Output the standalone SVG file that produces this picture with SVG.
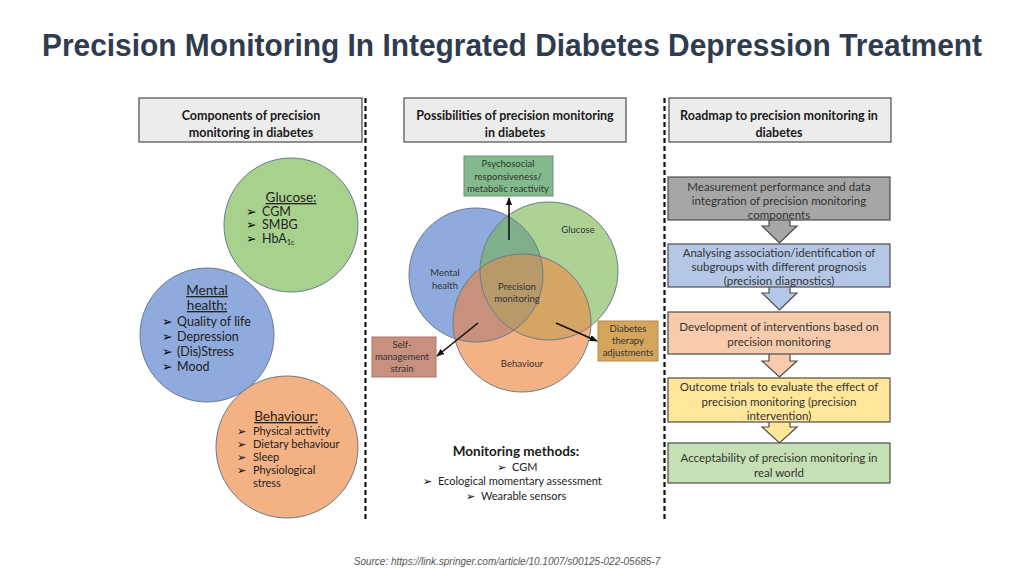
<svg xmlns="http://www.w3.org/2000/svg" width="1024" height="576" viewBox="0 0 1024 576">
<style>
.title{font-family:"Liberation Sans",Arial,sans-serif;font-weight:bold;font-size:31px;fill:#2F3C4F}
.hdr{font-family:Lato,"Open Sans",sans-serif;font-weight:bold;font-size:12.5px;fill:#1a1a1a;text-anchor:middle}
.hbox{fill:#ececec;stroke:#595959;stroke-width:1.3}
.dash{stroke:#111;stroke-width:2.2;stroke-dasharray:5 3;fill:none}
.ct{font-family:Lato,"Open Sans",sans-serif;font-size:12.5px;fill:#222}
.ctu{font-family:Lato,"Open Sans",sans-serif;font-size:13.5px;fill:#222;text-anchor:middle;text-decoration:underline}
.bt{font-family:Lato,"Open Sans",sans-serif;font-size:11px;fill:#222}
.blt{font-family:"DejaVu Sans",sans-serif;fill:#000}
.vt{font-family:Lato,"Open Sans",sans-serif;font-size:9.5px;fill:#333;text-anchor:middle}
.mm{font-family:Lato,"Open Sans",sans-serif;font-size:11px;fill:#222}
.rt{font-family:Lato,"Open Sans",sans-serif;font-size:11.5px;fill:#333;text-anchor:middle}
.rbox{stroke:#4d4d4d;stroke-width:1.2}
.circ{stroke:#6b7b8c;stroke-width:1}
.vo{fill:none;stroke:#6b7b8c;stroke-width:1}
.src{font-family:"Liberation Sans",Arial,sans-serif;font-style:italic;font-size:10px;fill:#555;text-anchor:middle}
</style>
<defs>
<marker id="ah" viewBox="0 0 10 10" refX="9" refY="5" markerWidth="5" markerHeight="5" orient="auto-start-reverse">
<path d="M0,1 L10,5 L0,9 z" fill="#111"/>
</marker>
<clipPath id="cBlue"><circle cx="476" cy="275" r="67"/></clipPath>
<clipPath id="cGreen"><circle cx="549" cy="271" r="69"/></clipPath>
</defs>
<rect width="1024" height="576" fill="#ffffff"/>
<text class="title" x="512" y="56" text-anchor="middle" textLength="940" lengthAdjust="spacingAndGlyphs">Precision Monitoring In Integrated Diabetes Depression Treatment</text>

<g id="dividers">
<line class="dash" x1="365.5" y1="98" x2="365.5" y2="519"/>
<line class="dash" x1="664.5" y1="98" x2="664.5" y2="519"/>
</g>

<g id="header-left">
<rect class="hbox" x="139" y="98" width="223" height="44"/>
<text class="hdr" x="251" y="120">Components of precision</text>
<text class="hdr" x="251" y="137">monitoring in diabetes</text>
</g>
<g id="header-middle">
<rect class="hbox" x="404" y="98" width="222" height="44"/>
<text class="hdr" x="515" y="120">Possibilities of precision monitoring</text>
<text class="hdr" x="515" y="137">in diabetes</text>
</g>
<g id="header-right">
<rect class="hbox" x="669" y="98" width="222" height="44"/>
<text class="hdr" x="779" y="120">Roadmap to precision monitoring in</text>
<text class="hdr" x="779" y="137">diabetes</text>
</g>

<g id="comp-glucose">
<circle class="circ" cx="291" cy="225" r="67" fill="#a9d18e"/>
<text class="ctu" x="291" y="202">Glucose:</text>
<text class="ct" x="246" y="216"><tspan class="blt" font-size="12.5">➢</tspan><tspan x="262">CGM</tspan></text>
<text class="ct" x="246" y="229"><tspan class="blt" font-size="12.5">➢</tspan><tspan x="262">SMBG</tspan></text>
<text class="ct" x="246" y="243"><tspan class="blt" font-size="12.5">➢</tspan><tspan x="262">HbA</tspan><tspan font-size="7.5" dy="2">1c</tspan></text>
</g>
<g id="comp-mental">
<circle class="circ" cx="207" cy="335" r="67" fill="#8faadc"/>
<text class="ctu" x="207" y="295">Mental</text>
<text class="ctu" x="207" y="310">health:</text>
<text class="ct" x="162" y="326"><tspan class="blt" font-size="12.5">➢</tspan><tspan x="177">Quality of life</tspan></text>
<text class="ct" x="162" y="341"><tspan class="blt" font-size="12.5">➢</tspan><tspan x="177">Depression</tspan></text>
<text class="ct" x="162" y="356"><tspan class="blt" font-size="12.5">➢</tspan><tspan x="177">(Dis)Stress</tspan></text>
<text class="ct" x="162" y="371"><tspan class="blt" font-size="12.5">➢</tspan><tspan x="177">Mood</tspan></text>
</g>
<g id="comp-behaviour">
<circle class="circ" cx="287" cy="447" r="71" fill="#f4b183"/>
<text class="ctu" x="286" y="421">Behaviour:</text>
<text class="bt" x="237" y="435"><tspan class="blt" font-size="11">➢</tspan><tspan x="253">Physical activity</tspan></text>
<text class="bt" x="237" y="448"><tspan class="blt" font-size="11">➢</tspan><tspan x="253">Dietary behaviour</tspan></text>
<text class="bt" x="237" y="461"><tspan class="blt" font-size="11">➢</tspan><tspan x="253">Sleep</tspan></text>
<text class="bt" x="237" y="474"><tspan class="blt" font-size="11">➢</tspan><tspan x="253">Physiological</tspan></text>
<text class="bt" x="253" y="487">stress</text>
</g>

<g id="venn">
<circle cx="476" cy="275" r="67" fill="#8faadc"/>
<circle cx="549" cy="271" r="69" fill="#add293"/>
<circle cx="522" cy="323" r="69" fill="#f4b183"/>
<circle cx="549" cy="271" r="69" fill="#80b08b" clip-path="url(#cBlue)"/>
<circle cx="522" cy="323" r="69" fill="#c8917e" clip-path="url(#cBlue)"/>
<circle cx="522" cy="323" r="69" fill="#d4a563" clip-path="url(#cGreen)"/>
<g clip-path="url(#cBlue)"><circle cx="522" cy="323" r="69" fill="#b89a6a" clip-path="url(#cGreen)"/></g>
<circle class="vo" cx="476" cy="275" r="67"/>
<circle class="vo" cx="549" cy="271" r="69"/>
<circle class="vo" cx="522" cy="323" r="69"/>
<text class="vt" x="578" y="233">Glucose</text>
<text class="vt" x="445" y="276">Mental</text>
<text class="vt" x="445" y="289">health</text>
<text class="vt" x="517" y="290">Precision</text>
<text class="vt" x="517" y="302">monitoring</text>
<text class="vt" x="522" y="367">Behaviour</text>
</g>

<g id="psychosocial">
<rect x="464" y="156" width="89" height="40" fill="#82ba8d" stroke="#6f8f76" stroke-width="1"/>
<text class="vt" x="508" y="167">Psychosocial</text>
<text class="vt" x="508" y="180">responsiveness/</text>
<text class="vt" x="508" y="192">metabolic reactivity</text>
</g>
<g id="self-management">
<rect x="372" y="337" width="64" height="40" fill="#c8907e" stroke="#a8786a" stroke-width="1"/>
<text class="vt" x="402" y="348">Self-</text>
<text class="vt" x="402" y="360">management</text>
<text class="vt" x="402" y="372">strain</text>
</g>
<g id="therapy">
<rect x="598" y="321" width="60" height="40" fill="#d5a55c" stroke="#b08a4c" stroke-width="1"/>
<text class="vt" x="628" y="332">Diabetes</text>
<text class="vt" x="628" y="344">therapy</text>
<text class="vt" x="628" y="356">adjustments</text>
</g>

<g id="connectors">
<line x1="509" y1="240" x2="509" y2="198" stroke="#111" stroke-width="1.6" marker-end="url(#ah)"/>
<line x1="478" y1="323" x2="437" y2="356" stroke="#111" stroke-width="1.6" marker-end="url(#ah)"/>
<line x1="556" y1="323" x2="597" y2="341" stroke="#111" stroke-width="1.6" marker-end="url(#ah)"/>
<path d="M769,219 V226 H762 L779.5,243 L797,226 H790 V219" fill="#a6a6a6" stroke="#4d4d4d" stroke-width="1.2"/>
<path d="M769,286 V293 H762 L779.5,310 L797,293 H790 V286" fill="#b4c7e7" stroke="#4d4d4d" stroke-width="1.2"/>
<path d="M769,353 V361 H762 L779.5,377 L797,361 H790 V353" fill="#f8cbad" stroke="#4d4d4d" stroke-width="1.2"/>
<path d="M769,421 V427 H762 L779.5,443 L797,427 H790 V421" fill="#ffe699" stroke="#4d4d4d" stroke-width="1.2"/>
</g>

<g id="monitoring-methods">
<text x="516" y="456" text-anchor="middle" font-family="Lato,'Open Sans',sans-serif" font-weight="bold" font-size="13.5" fill="#1a1a1a">Monitoring methods:</text>
<text class="mm" x="497" y="471"><tspan class="blt" font-size="11">➢</tspan><tspan x="512">CGM</tspan></text>
<text class="mm" x="423" y="485"><tspan class="blt" font-size="11">➢</tspan><tspan x="438">Ecological momentary assessment</tspan></text>
<text class="mm" x="466" y="500"><tspan class="blt" font-size="11">➢</tspan><tspan x="481">Wearable sensors</tspan></text>
</g>

<g id="step1">
<rect class="rbox" x="668" y="177" width="222" height="43" fill="#a6a6a6"/>
<text class="rt" x="779" y="191">Measurement performance and data</text>
<text class="rt" x="779" y="205">integration of precision monitoring</text>
<text class="rt" x="779" y="219">components</text>
</g>
<g id="step2">
<rect class="rbox" x="668" y="244" width="222" height="43" fill="#b4c7e7"/>
<text class="rt" x="779" y="257">Analysing association/identification of</text>
<text class="rt" x="779" y="271">subgroups with different prognosis</text>
<text class="rt" x="779" y="285">(precision diagnostics)</text>
</g>
<g id="step3">
<rect class="rbox" x="668" y="312" width="222" height="42" fill="#f8cbad"/>
<text class="rt" x="779" y="331">Development of interventions based on</text>
<text class="rt" x="779" y="346">precision monitoring</text>
</g>
<g id="step4">
<rect class="rbox" x="668" y="378" width="222" height="44" fill="#ffe699"/>
<text class="rt" x="779" y="391">Outcome trials to evaluate the effect of</text>
<text class="rt" x="779" y="406">precision monitoring (precision</text>
<text class="rt" x="779" y="420">intervention)</text>
</g>
<g id="step5">
<rect class="rbox" x="668" y="443" width="222" height="40" fill="#c5e0b4"/>
<text class="rt" x="779" y="462">Acceptability of precision monitoring in</text>
<text class="rt" x="779" y="477">real world</text>
</g>

<text class="src" x="507" y="565">Source: https://link.springer.com/article/10.1007/s00125-022-05685-7</text>
</svg>
